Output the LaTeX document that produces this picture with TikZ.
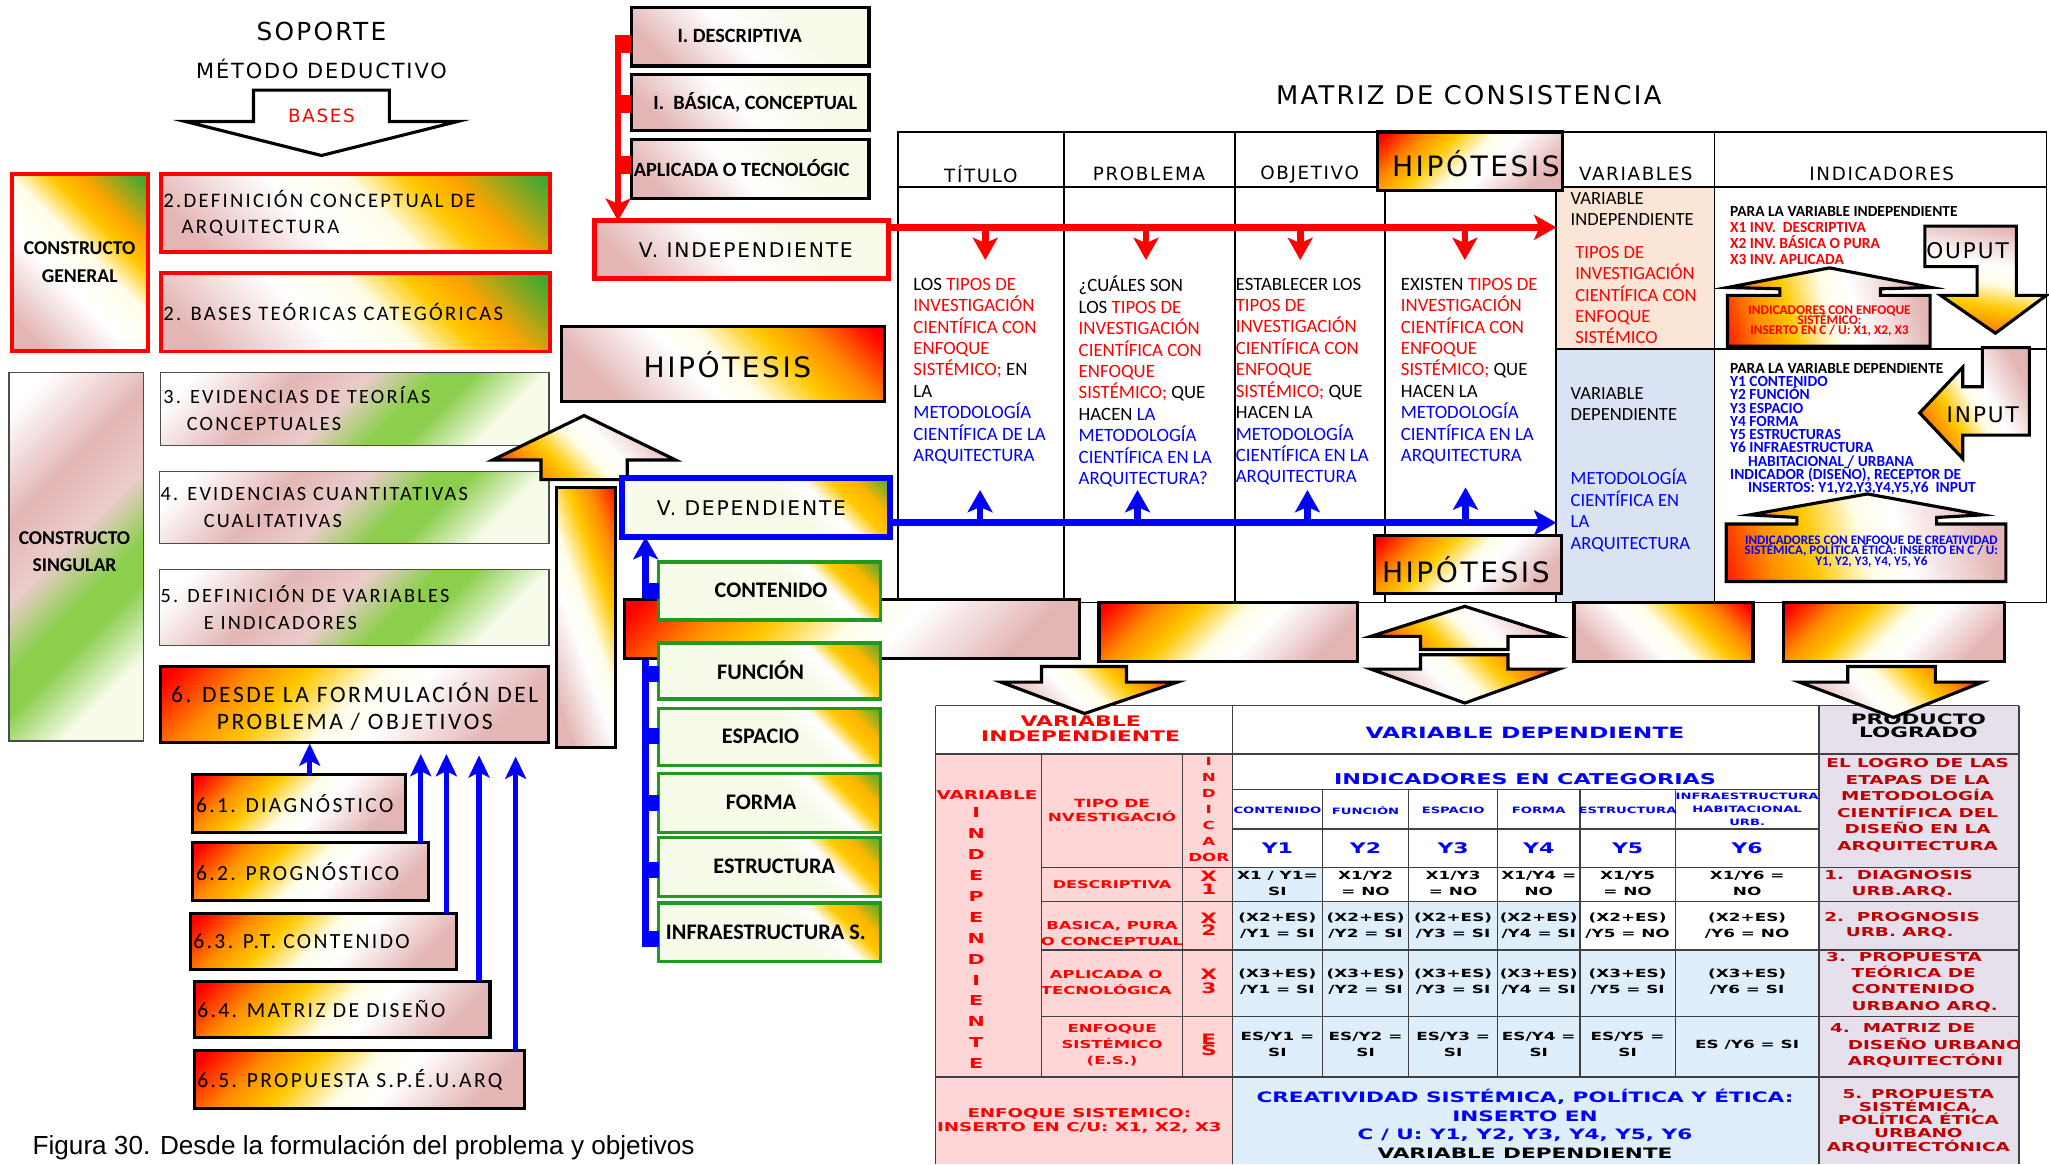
\documentclass[tikz,border=0pt]{standalone}
\usepackage{fontspec}
\setmainfont{Carlito}
\newfontfamily\lsfont[LetterSpace=11]{Carlito}
\newfontfamily\gfont[LetterSpace=9]{DejaVu Sans}
\newfontfamily\wfont[FakeStretch=1.5]{DejaVu Sans}
\newfontfamily\capfont{Liberation Sans}
\usetikzlibrary{arrows.meta}
\newcommand{\fsz}[2]{\fontsize{#1}{#2}\selectfont\lineskiplimit=-1000pt\relax}
\newcommand{\W}[2]{\wfont\bfseries\fsz{#1}{#2}}
\definecolor{fred}{HTML}{FF0000}
\definecolor{forange}{HTML}{FF8C00}
\definecolor{fyellow}{HTML}{FFC800}
\definecolor{fivory}{HTML}{FFFDE8}
\definecolor{fpink}{HTML}{E3B6B5}
\definecolor{fiv}{HTML}{F7FBE9}
\definecolor{fgreen}{HTML}{3AA935}
\definecolor{lgreen}{HTML}{8CCF4D}
\definecolor{pblue}{HTML}{0000FF}
\definecolor{peach}{HTML}{FBE5D6}
\definecolor{lblue}{HTML}{DAE3F3}
\definecolor{tpink}{HTML}{FFD6D6}
\definecolor{tblue}{HTML}{DEEEFA}
\definecolor{lav}{HTML}{E6E0EC}
\definecolor{dred}{HTML}{C00000}
\definecolor{gbord}{HTML}{1F9A1F}
\definecolor{tline}{HTML}{404040}
\pgfdeclarehorizontalshading{fire}{100bp}{color(0bp)=(fred); color(17bp)=(fred); color(29bp)=(forange); color(38bp)=(fyellow); color(49bp)=(fivory); color(57bp)=(white); color(75bp)=(fpink); color(100bp)=(fpink)}
\pgfdeclarehorizontalshading{gold}{100bp}{color(0bp)=(fpink); color(22bp)=(fpink); color(42bp)=(white); color(54bp)=(fivory); color(63bp)=(fyellow); color(70bp)=(forange!60!fyellow); color(84bp)=(fgreen); color(100bp)=(fgreen)}
\pgfdeclarehorizontalshading{gband}{100bp}{color(0bp)=(white); color(20bp)=(white); color(36bp)=(fpink); color(47bp)=(fpink!70); color(57bp)=(lgreen); color(63bp)=(lgreen); color(74bp)=(fiv); color(100bp)=(fiv)}
\pgfdeclarehorizontalshading{ivgreen}{100bp}{color(0bp)=(fiv); color(58bp)=(fiv); color(66bp)=(white); color(72bp)=(fyellow); color(77bp)=(fyellow!70!forange); color(86bp)=(fgreen); color(100bp)=(fgreen)}
\pgfdeclarehorizontalshading{pinkiv}{100bp}{color(0bp)=(fpink); color(24bp)=(fpink); color(46bp)=(white); color(64bp)=(fiv); color(100bp)=(fiv)}
\begin{document}
\begin{tikzpicture}[x=1pt,y=-1pt,
  every node/.style={inner sep=0pt, outer sep=0pt},
  boxnw/.style={anchor=north west},
  fireL/.style={shade, shading=fire, shading angle=-45},
  fireTR/.style={shade, shading=fire, shading angle=225},
  fireBL/.style={shade, shading=fire, shading angle=45},
  goldS/.style={shade, shading=gold, shading angle=45},
  gbandS/.style={shade, shading=gband, shading angle=-45},
  ivgS/.style={shade, shading=ivgreen, shading angle=45},
  pinkS/.style={shade, shading=pinkiv, shading angle=45},
  blk/.style={draw=black, line width=2.4pt},
  redb/.style={draw=fred, line width=3pt},
  thinb/.style={draw=black!70, line width=1pt},
  grnb/.style={draw=gbord, line width=2.6pt},
  blub/.style={draw=pblue, line width=4.5pt},
  blockar/.style={draw=black, line width=2.4pt, line join=miter},
  rarr/.style={draw=fred, line width=5pt, -{Stealth[length=17pt,width=19pt,inset=4pt]}},
  barr/.style={draw=pblue, line width=5pt, -{Stealth[length=17pt,width=19pt,inset=4pt]}},
  barrs/.style={draw=pblue, line width=4pt, -{Stealth[length=17pt,width=16pt,inset=4pt]}},
  mline/.style={draw=black, line width=1.4pt},
]
\useasboundingbox (0,0) rectangle (1568,891);
\fill[white] (0,0) rectangle (1568,891);

% ---------- headings
\node[font={\gfont\fsz{19}{22}}] (sop) at (246,24) {SOPORTE};
\node[font={\gfont\fsz{16}{19}}] (met) at (246,53) {MÉTODO DEDUCTIVO};
\draw[blockar, fill=white] (194,69) -- (298,69) -- (298,93) -- (350,93) -- (246,119) -- (142,93) -- (194,93) -- cycle;
\node[font={\gfont\fsz{14}{16}}, text=fred] (bas) at (246,89) {BASES};

% ---------- left column
\node[boxnw, goldS, redb, minimum width=104, minimum height=135] (cg) at (9,133.5) {};
\node[align=center, font={\bfseries\fsz{15}{21}}] (cgt) at (61,200.5) {CONSTRUCTO\\GENERAL};
\node[boxnw, goldS, redb, minimum width=298, minimum height=60] (b21) at (123,133) {};
\node[anchor=west, align=left, font={\lsfont\fsz{15.8}{20}}] (b21t) at ([xshift=2]b21.west) {2.DEFINICIÓN CONCEPTUAL DE\\\hspace*{14pt}ARQUITECTURA};
\node[boxnw, goldS, redb, minimum width=298, minimum height=60] (b22) at (123,209) {};
\node[anchor=west, font={\lsfont\fsz{15.8}{20}}] (b22t) at ([xshift=2]b22.west) {2. BASES TEÓRICAS CATEGÓRICAS};

\node[boxnw, gbandS, thinb, minimum width=103, minimum height=282] (cs) at (7,285) {};
\node[align=center, font={\bfseries\fsz{15}{21}}] (cst) at (57,422) {CONSTRUCTO\\SINGULAR};
\node[boxnw, gbandS, thinb, minimum width=297, minimum height=56] (b3) at (123,285) {};
\node[anchor=west, align=left, font={\lsfont\fsz{15.5}{20.7}}] (b3t) at ([xshift=2]b3.west) {3. EVIDENCIAS DE TEORÍAS\\\hspace*{18pt}CONCEPTUALES};
\node[boxnw, gbandS, thinb, minimum width=298, minimum height=55] (b4) at (122,361) {};
\node[anchor=west, align=left, font={\lsfont\fsz{15.5}{20.7}}] (b4t) at ([xshift=1]b4.west) {4. EVIDENCIAS CUANTITATIVAS\\\hspace*{33pt}CUALITATIVAS};
\node[boxnw, gbandS, thinb, minimum width=298, minimum height=58] (b5) at (122,436) {};
\node[anchor=west, align=left, font={\lsfont\fsz{15.5}{20}}] (b5t) at ([xshift=1]b5.west) {5. DEFINICIÓN DE VARIABLES\\\hspace*{33pt}E INDICADORES};
\node[boxnw, fireL, blk, minimum width=297, minimum height=58] (b6) at (123,510) {};
\node[align=center, font={\lsfont\fsz{18}{20.5}}] (b6t) at (271.5,540.5) {6. DESDE LA FORMULACIÓN DEL\\PROBLEMA / OBJETIVOS};

% tall bar and up arrow
\node[boxnw, shade, shading=fire, shading angle=200, blk, minimum width=45, minimum height=199] (bar) at (426,373) {};
\draw[blockar, fireBL] (414,367) -- (414,352) -- (377,352) -- (447,318) -- (517,352) -- (480,352) -- (480,367) -- cycle;

% 6.x boxes
\node[boxnw, fireL, blk, minimum width=163, minimum height=44] (b61) at (147,593) {};
\node[anchor=west, font={\lsfont\fsz{16.5}{20}}] (b61t) at ([xshift=3]b61.west) {6.1. DIAGNÓSTICO};
\node[boxnw, fireL, blk, minimum width=181, minimum height=44] (b62) at (147,645) {};
\node[anchor=west, font={\lsfont\fsz{16.5}{20}}] (b62t) at ([xshift=3]b62.west) {6.2. PROGNÓSTICO};
\node[boxnw, fireL, blk, minimum width=203.5, minimum height=43] (b63) at (146,699) {};
\node[anchor=west, font={\lsfont\fsz{16.5}{20}}] (b63t) at ([xshift=2]b63.west) {6.3. P.T. CONTENIDO};
\node[boxnw, fireL, blk, minimum width=226, minimum height=43] (b64) at (149,751) {};
\node[anchor=west, font={\lsfont\fsz{16.5}{20}}] (b64t) at ([xshift=2]b64.west) {6.4. MATRIZ DE DISEÑO};
\node[boxnw, fireL, blk, minimum width=252.5, minimum height=44.5] (b65) at (149,804) {};
\node[anchor=west, font={\lsfont\fsz{16.5}{20}}] (b65t) at ([xshift=2]b65.west) {6.5. PROPUESTA S.P.É.U.ARQ};

\coordinate (a61) at (237,0);
\coordinate (a62) at (322,0);
\coordinate (a63) at (341.6,0);
\coordinate (a64) at (366.6,0);
\coordinate (a65) at (394.6,0);
\draw[barrs, shorten >=1pt] (b61.north -| a61) -- (b6.south -| a61);
\draw[barrs, shorten >=9pt] (b62.north -| a62) -- (b6.south -| a62);
\draw[barrs, shorten >=9pt] (b63.north -| a63) -- (b6.south -| a63);
\draw[barrs, shorten >=10pt] (b64.north -| a64) -- (b6.south -| a64);
\draw[barrs, shorten >=11pt] (b65.north -| a65) -- (b6.south -| a65);

% ---------- investigation types
\node[boxnw, pinkS, blk, minimum width=182, minimum height=44.5] (d1) at (483,6) {};
\node[font={\bfseries\fsz{15.5}{18}}] (d1t) at (566,27.3) {I. DESCRIPTIVA};
\node[boxnw, pinkS, blk, minimum width=182, minimum height=43] (d2) at (483,57) {};
\node[anchor=west, font={\bfseries\fsz{15.5}{18}}] (d2t) at (500,78.4) {I.\ \ BÁSICA, CONCEPTUAL};
\node[boxnw, pinkS, blk, minimum width=182, minimum height=45] (d3) at (483,107) {};
\node[anchor=west, font={\bfseries\fsz{15.5}{18}}] (d3t) at (485,128.5) {APLICADA O TECNOLÓGIC};

\node[boxnw, pinkS, draw=fred, line width=4pt, minimum width=225, minimum height=44] (vi) at (455,169) {};
\node[font={\gfont\fsz{15.5}{18}}] (vit) at (570.7,191.3) {V. INDEPENDIENTE};

\coordinate (brk) at (473,29);
\coordinate (s1) at (0,33.5);
\coordinate (s2) at (0,79.5);
\coordinate (s3) at (0,126.5);
\draw[fred, line width=14pt] (d1.west |- s1) -- (brk |- s1);
\draw[fred, line width=14pt] (d2.west |- s2) -- (brk |- s2);
\draw[fred, line width=14pt] (d3.west |- s3) -- (brk |- s3);
\draw[rarr, line join=miter] (d1.west |- brk) -- (brk) -- (brk |- vi.north);

\node[boxnw, fireTR, blk, minimum width=247, minimum height=57] (hl) at (430,250) {};
\node[font={\gfont\fsz{21.5}{24}}] (hlt) at (556.7,278.7) {HIPÓTESIS};

\node[boxnw, ivgS, blub, minimum width=205, minimum height=45] (vd) at (476,366) {};
\node[font={\gfont\fsz{15.5}{18}}] (vdt) at (575,388.5) {V. DEPENDIENTE};

% ---------- matrix table
\node[font={\gfont\fsz{19.7}{22}}] (mt) at (1124,73) {MATRIZ DE CONSISTENCIA};
\node[boxnw, fill=peach, minimum width=121, minimum height=124] (vind) at (1191,143) {};
\node[boxnw, fill=lblue, minimum width=121, minimum height=194] (vdep) at (1191,267) {};
\draw[mline] (687,101) rectangle (1566,461);
\draw[mline] (687,143) -- (1566,143) (814,101) -- (814,461) (945,101) -- (945,461) (1060,143) -- (1060,461) (1191,101) -- (1191,461) (1312,101) -- (1312,461) (1191,267) -- (1566,267);

\node[font={\gfont\fsz{14}{16}}] (h1) at (750.6,133.2) {TÍTULO};
\node[font={\gfont\fsz{14}{16}}] (h2) at (879.3,133.2) {PROBLEMA};
\node[font={\gfont\fsz{14}{16}}] (h3) at (1002.2,133.2) {OBJETIVO};
\node[font={\gfont\fsz{14}{16}}] (h5) at (1251.8,133.2) {VARIABLES};
\node[font={\gfont\fsz{14}{16}}] (h6) at (1440,133.2) {INDICADORES};

\node[anchor=west, align=left, font={\fsz{14.4}{16.4}}] (c1) at (699,284) {LOS \textcolor{fred}{TIPOS DE}\\\textcolor{fred}{INVESTIGACIÓN}\\\textcolor{fred}{CIENTÍFICA CON}\\\textcolor{fred}{ENFOQUE}\\\textcolor{fred}{SISTÉMICO;} EN\\LA\\\textcolor{pblue}{METODOLOGÍA}\\\textcolor{pblue}{CIENTÍFICA DE LA}\\\textcolor{pblue}{ARQUITECTURA}};
\node[anchor=west, align=left, font={\fsz{14.4}{16.4}}] (c2) at (825.5,292) {¿CUÁLES SON\\LOS \textcolor{fred}{TIPOS DE}\\\textcolor{fred}{INVESTIGACIÓN}\\\textcolor{fred}{CIENTÍFICA CON}\\\textcolor{fred}{ENFOQUE}\\\textcolor{fred}{SISTÉMICO;} QUE\\HACEN \textcolor{pblue}{LA}\\\textcolor{pblue}{METODOLOGÍA}\\\textcolor{pblue}{CIENTÍFICA EN LA}\\\textcolor{pblue}{ARQUITECTURA?}};
\node[anchor=west, align=left, font={\fsz{14.4}{16.4}}] (c3) at (945.7,292) {ESTABLECER LOS\\\textcolor{fred}{TIPOS DE}\\\textcolor{fred}{INVESTIGACIÓN}\\\textcolor{fred}{CIENTÍFICA CON}\\\textcolor{fred}{ENFOQUE}\\\textcolor{fred}{SISTÉMICO;} QUE\\HACEN LA\\\textcolor{pblue}{METODOLOGÍA}\\\textcolor{pblue}{CIENTÍFICA EN LA}\\\textcolor{pblue}{ARQUITECTURA}};
\node[anchor=west, align=left, font={\fsz{14.4}{16.4}}] (c4) at (1072,284) {EXISTEN \textcolor{fred}{TIPOS DE}\\\textcolor{fred}{INVESTIGACIÓN}\\\textcolor{fred}{CIENTÍFICA CON}\\\textcolor{fred}{ENFOQUE}\\\textcolor{fred}{SISTÉMICO;} QUE\\HACEN LA\\\textcolor{pblue}{METODOLOGÍA}\\\textcolor{pblue}{CIENTÍFICA EN LA}\\\textcolor{pblue}{ARQUITECTURA}};

\node[anchor=west, align=left, font={\fsz{14.2}{16.4}}] (vt1) at (1202,160) {VARIABLE\\INDEPENDIENTE};
\node[anchor=west, align=left, font={\fsz{14.2}{16.2}}, text=fred] (vt2) at (1205.5,225.8) {TIPOS DE\\INVESTIGACIÓN\\CIENTÍFICA CON\\ENFOQUE\\SISTÉMICO};
\node[anchor=west, align=left, font={\fsz{14.2}{16.4}}] (vt3) at (1202,309) {VARIABLE\\DEPENDIENTE};
\node[anchor=west, align=left, font={\fsz{14.2}{16.4}}, text=pblue] (vt4) at (1202,390.6) {METODOLOGÍA\\CIENTÍFICA EN\\LA\\ARQUITECTURA};

\node[boxnw, fireL, blk, minimum width=142, minimum height=45] (ht) at (1054,101) {};
\node[font={\gfont\fsz{21.5}{24}}] (htt) at (1129.4,125) {HIPÓTESIS};

% red and blue flows
\coordinate (ry) at (0,174);
\coordinate (rd1) at (754,199);
\coordinate (rd2) at (877,199);
\coordinate (rd3) at (995,199);
\coordinate (rd4) at (1121,199);
\draw[rarr] (vi.east |- ry) -- (vind.west |- ry);
\draw[rarr] (rd1 |- ry) -- (rd1);
\draw[rarr] (rd2 |- ry) -- (rd2);
\draw[rarr] (rd3 |- ry) -- (rd3);
\draw[rarr] (rd4 |- ry) -- (rd4);
\coordinate (by) at (0,400);
\coordinate (bu1) at (750,375);
\coordinate (bu2) at (870.5,375);
\coordinate (bu3) at (1000.5,375);
\coordinate (bu4) at (1121.5,373);
\draw[barr] (vd.east |- by) -- (vdep.west |- by);
\draw[barr] (bu1 |- by) -- (bu1);
\draw[barr] (bu2 |- by) -- (bu2);
\draw[barr] (bu3 |- by) -- (bu3);
\draw[barr] (bu4 |- by) -- (bu4);

\node[boxnw, fireL, blk, minimum width=143, minimum height=44] (hb) at (1052,410) {};
\node[font={\gfont\fsz{21.5}{24}}] (hbt) at (1121.7,435.7) {HIPÓTESIS};

% indicators column
\node[anchor=west, align=left, font={\bfseries\fsz{11.8}{12.3}}] (ind1) at (1324,180.5) {PARA LA VARIABLE INDEPENDIENTE\\\textcolor{fred}{X1 INV.\ \ DESCRIPTIVA}\\\textcolor{fred}{X2 INV. BÁSICA O PURA}\\\textcolor{fred}{X3 INV. APLICADA}};
\draw[blockar, shade, shading=fire, shading angle=15] (1322,265) -- (1322,226) -- (1362,226) -- (1362,221) -- (1322,220) -- (1400,205) -- (1478,220) -- (1439,221) -- (1439,226) -- (1477,226) -- (1477,265) -- cycle;
\begin{scope}
\clip (1322,205) rectangle (1478,257.5);
\node[align=center, font={\bfseries\fsz{10.2}{7.6}}, text=fred] (ia1) at (1400,245.5) {INDICADORES CON ENFOQUE\\SISTÉMICO:\\INSERTO EN C / U: X1, X2, X3};
\end{scope}
\draw[blockar, shade, shading=fire, shading angle=80] (1473,173) -- (1543,173) -- (1543,226) -- (1566,226) -- (1527,255) -- (1485,226) -- (1513,226) -- (1513,204) -- (1473,204) -- cycle;
\node[font={\gfont\fsz{16.5}{18}}] (oup) at (1505.6,191.8) {OUPUT};

\node[anchor=west, align=left, font={\bfseries\fsz{11.8}{10.13}}] (ind2) at (1324,328.3) {PARA LA VARIABLE DEPENDIENTE\\\textcolor{pblue}{Y1 CONTENIDO}\\\textcolor{pblue}{Y2 FUNCIÓN}\\\textcolor{pblue}{Y3 ESPACIO}\\\textcolor{pblue}{Y4 FORMA}\\\textcolor{pblue}{Y5 ESTRUCTURAS}\\\textcolor{pblue}{Y6 INFRAESTRUCTURA}\\\hspace*{13.7pt}\textcolor{pblue}{HABITACIONAL / URBANA}\\\textcolor{pblue}{INDICADOR (DISEÑO), RECEPTOR DE}\\\hspace*{13.7pt}\textcolor{pblue}{INSERTOS: Y1,Y2,Y3,Y4,Y5,Y6\ \ INPUT}};
\draw[blockar, shade, shading=fire, shading angle=30] (1517,266) -- (1553,266) -- (1553,333) -- (1502,333) -- (1502,351) -- (1469,316) -- (1502,281) -- (1502,296) -- (1517,296) -- cycle;
\node[font={\gfont\fsz{16.5}{18}}] (inp) at (1517.3,317.6) {INPUT};
\draw[blockar, shade, shading=fire, shading angle=15] (1321,445) -- (1321,401) -- (1375,401) -- (1375,396) -- (1339,394) -- (1429,378) -- (1517,394) -- (1482,396) -- (1482,401) -- (1535,401) -- (1535,445) -- cycle;
\node[align=center, font={\bfseries\fsz{10}{8}}, text=pblue] (ia2) at (1432,422) {INDICADORES CON ENFOQUE DE CREATIVIDAD\\SISTÉMICA, POLÍTICA ÉTICA: INSERTO EN C / U:\\Y1, Y2, Y3, Y4, Y5, Y6};

% ---------- dependent variable indicators (green boxes)
\coordinate (bl) at (494,725);
\draw[barr] (bl) -- (bl |- vd.south);
\node[boxnw, fireL, blk, minimum width=348, minimum height=45] (ba) at (478,459) {};
\coordinate (u1) at (0,452);
\coordinate (u2) at (0,516);
\coordinate (u3) at (0,563);
\coordinate (u4) at (0,614.5);
\coordinate (u5) at (0,665.5);
\coordinate (u6) at (0,718.5);
\node[boxnw, ivgS, grnb, minimum width=170, minimum height=44.5] (g1) at (504,430) {};
\node[boxnw, ivgS, grnb, minimum width=170, minimum height=43] (g2) at (504,492) {};
\node[boxnw, ivgS, grnb, minimum width=170, minimum height=44] (g3) at (504,542) {};
\node[boxnw, ivgS, grnb, minimum width=170, minimum height=45] (g4) at (504,592) {};
\node[boxnw, ivgS, grnb, minimum width=170, minimum height=45] (g5) at (504,641) {};
\node[boxnw, ivgS, grnb, minimum width=170, minimum height=45] (g6) at (504,691) {};
\draw[pblue, line width=12pt] (g1.west |- u1) -- (bl |- u1);
\draw[pblue, line width=12pt] (g2.west |- u2) -- (bl |- u2);
\draw[pblue, line width=12pt] (g3.west |- u3) -- (bl |- u3);
\draw[pblue, line width=12pt] (g4.west |- u4) -- (bl |- u4);
\draw[pblue, line width=12pt] (g5.west |- u5) -- (bl |- u5);
\draw[pblue, line width=12pt] (g6.west |- u6) -- (bl |- u6);
\node[font={\bfseries\fsz{17}{20}}] (g1t) at (590,451.5) {CONTENIDO};
\node[font={\bfseries\fsz{17}{20}}] (g2t) at (582,513) {FUNCIÓN};
\node[font={\bfseries\fsz{17}{20}}] (g3t) at (582,563.7) {ESPACIO};
\node[font={\bfseries\fsz{17}{20}}] (g4t) at (582.4,614) {FORMA};
\node[font={\bfseries\fsz{17}{20}}] (g5t) at (592.5,663.2) {ESTRUCTURA};
\node[anchor=west, font={\bfseries\fsz{17}{20}}] (g6t) at (509.6,713.7) {INFRAESTRUCTURA S.};

% ---------- row of boxes under matrix
\node[boxnw, fireL, blk, minimum width=198, minimum height=45] (bb) at (841,461) {};
\node[boxnw, fireTR, blk, minimum width=137, minimum height=45] (bc) at (1204.5,461) {};
\node[boxnw, fireL, blk, minimum width=169, minimum height=45] (bdd) at (1365,461) {};

% ---------- bottom table
\fill[tpink] (716,577) rectangle (943,891);
\fill[lav] (1392,540) rectangle (1545,891);
\fill[tblue] (943,664) rectangle (1012,690);
\fill[tblue] (943,690) rectangle (1209,727);
\fill[tblue] (943,727) rectangle (1392,891);
\draw[tline, line width=1.2pt] (716,540) -- (1545,540) (716,577) -- (1545,577) (943,604) -- (1392,604) (943,634.5) -- (1392,634.5) (797,664) -- (1545,664) (797,690) -- (1545,690) (797,727) -- (1545,727) (797,778) -- (1545,778) (716,824) -- (1545,824) (716,540) -- (716,891) (797,577) -- (797,824) (905,577) -- (905,824) (943,540) -- (943,891) (1012,604) -- (1012,824) (1078,604) -- (1078,824) (1146,604) -- (1146,824) (1209,604) -- (1209,824) (1282,604) -- (1282,824) (1392,540) -- (1392,891) (1545,540) -- (1545,891);

\node[align=center, font={\W{11.2}{11}}, text=fred] (tvi) at (827,557.5) {VARIABLE\\INDEPENDIENTE};
\node[font={\W{11.9}{13}}, text=pblue] (tvd) at (1167,561) {VARIABLE\enspace DEPENDIENTE};
\node[align=center, font={\W{11}{9.5}}] (tpl) at (1468,555.5) {PRODUCTO\\LOGRADO};
\node[font={\W{11.4}{13}}, text=pblue] (tic) at (1167,596) {INDICADORES EN CATEGORIAS};
\node[font={\W{6.7}{8}}, text=pblue] (n1) at (977.5,620) {CONTENIDO};
\node[font={\W{6.7}{8}}, text=pblue] (n2) at (1045,620) {FUNCIÓN};
\node[font={\W{6.7}{8}}, text=pblue] (n3) at (1112,620) {ESPACIO};
\node[font={\W{6.7}{8}}, text=pblue] (n4) at (1177.5,620) {FORMA};
\node[font={\W{6.7}{8}}, text=pblue] (n5) at (1245.5,620) {ESTRUCTURA};
\node[align=center, font={\W{6.7}{10}}, text=pblue] (n6) at (1337,619.5) {INFRAESTRUCTURA\\HABITACIONAL\\URB.};
\node[font={\W{11.2}{13}}, text=pblue] (y1) at (977.5,649) {Y1};
\node[font={\W{11.2}{13}}, text=pblue] (y2) at (1045,649) {Y2};
\node[font={\W{11.2}{13}}, text=pblue] (y3) at (1112,649) {Y3};
\node[font={\W{11.2}{13}}, text=pblue] (y4) at (1177.5,649) {Y4};
\node[font={\W{11.2}{13}}, text=pblue] (y5) at (1245.5,649) {Y5};
\node[font={\W{11.2}{13}}, text=pblue] (y6) at (1337,649) {Y6};

\node[align=center, font={\W{8.6}{12.2}}] (e11) at (977.5,675.8) {X1 / Y1=\\SI};
\node[align=center, font={\W{8.6}{12.2}}] (e12) at (1045,675.8) {X1/Y2\\= NO};
\node[align=center, font={\W{8.6}{12.2}}] (e13) at (1112,675.8) {X1/Y3\\= NO};
\node[align=center, font={\W{8.6}{12.2}}] (e14) at (1177.5,675.8) {X1/Y4 =\\NO};
\node[align=center, font={\W{8.6}{12.2}}] (e15) at (1245.5,675.8) {X1/Y5\\= NO};
\node[align=center, font={\W{8.6}{12.2}}] (e16) at (1337,675.8) {X1/Y6 =\\NO};
\node[align=center, font={\W{8.6}{12.2}}] (e21) at (977.5,708.3) {(X2+ES)\\/Y1 = SI};
\node[align=center, font={\W{8.6}{12.2}}] (e22) at (1045,708.3) {(X2+ES)\\/Y2 = SI};
\node[align=center, font={\W{8.6}{12.2}}] (e23) at (1112,708.3) {(X2+ES)\\/Y3 = SI};
\node[align=center, font={\W{8.6}{12.2}}] (e24) at (1177.5,708.3) {(X2+ES)\\/Y4 = SI};
\node[align=center, font={\W{8.6}{12.2}}] (e25) at (1245.5,708.3) {(X2+ES)\\/Y5 = NO};
\node[align=center, font={\W{8.6}{12.2}}] (e26) at (1337,708.3) {(X2+ES)\\/Y6 = NO};
\node[align=center, font={\W{8.6}{12.2}}] (e31) at (977.5,751.5) {(X3+ES)\\/Y1 = SI};
\node[align=center, font={\W{8.6}{12.2}}] (e32) at (1045,751.5) {(X3+ES)\\/Y2 = SI};
\node[align=center, font={\W{8.6}{12.2}}] (e33) at (1112,751.5) {(X3+ES)\\/Y3 = SI};
\node[align=center, font={\W{8.6}{12.2}}] (e34) at (1177.5,751.5) {(X3+ES)\\/Y4 = SI};
\node[align=center, font={\W{8.6}{12.2}}] (e35) at (1245.5,751.5) {(X3+ES)\\/Y5 = SI};
\node[align=center, font={\W{8.6}{12.2}}] (e36) at (1337,751.5) {(X3+ES)\\/Y6 = SI};
\node[align=center, font={\W{8.6}{12.2}}] (e41) at (977.5,799.5) {ES/Y1 =\\SI};
\node[align=center, font={\W{8.6}{12.2}}] (e42) at (1045,799.5) {ES/Y2 =\\SI};
\node[align=center, font={\W{8.6}{12.2}}] (e43) at (1112,799.5) {ES/Y3 =\\SI};
\node[align=center, font={\W{8.6}{12.2}}] (e44) at (1177.5,799.5) {ES/Y4 =\\SI};
\node[align=center, font={\W{8.6}{12.2}}] (e45) at (1245.5,799.5) {ES/Y5 =\\SI};
\node[font={\W{8.6}{12.2}}] (e46) at (1337,799.5) {ES /Y6 = SI};

\node[font={\W{9.4}{11}}, text=fred] (tvar) at (755.3,608.4) {VARIABLE};
\node[align=center, font={\W{10.5}{16}}, text=fred] (tlet) at (747,718) {I\\N\\D\\E\\P\\E\\N\\D\\I\\E\\N\\T\\E};
\begin{scope}
\clip (797,577) rectangle (905,824);
\node[align=center, font={\W{8.6}{10.5}}, text=fred] (ttipo) at (851,620) {TIPO DE\\NVESTIGACIÓ};
\node[font={\W{8.2}{10}}, text=fred] (tdes) at (851,677) {DESCRIPTIVA};
\node[align=center, font={\W{8.4}{12.2}}, text=fred] (tbas) at (851,714.7) {BASICA, PURA\\O CONCEPTUAL};
\node[align=center, font={\W{8.4}{12}}, text=fred] (tapl) at (846.5,752) {APLICADA O\\TECNOLÓGICA};
\node[align=center, font={\W{8.4}{12.2}}, text=fred] (tenf) at (851,800) {ENFOQUE\\SISTÉMICO\\(E.S.)};
\end{scope}
\node[align=center, font={\W{8.5}{12.25}}, text=fred] (tind) at (925,619.8) {I\\N\\D\\I\\C\\A\\DOR};
\node[align=center, font={\W{11}{9.3}}, text=fred] (tx1) at (925,675.5) {X\\1};
\node[align=center, font={\W{11}{9}}, text=fred] (tx2) at (925,707.5) {X\\2};
\node[align=center, font={\W{11}{10}}, text=fred] (tx3) at (925,751) {X\\3};
\node[align=center, font={\W{11}{8.6}}, text=fred] (tes) at (925,799.3) {E\\S};
\node[align=center, font={\W{9.3}{10.5}}, text=fred] (tbl) at (826,857.8) {ENFOQUE SISTEMICO:\\INSERTO EN C/U: X1, X2, X3};
\node[align=center, font={\W{11}{14.1}}, text=pblue] (tcr) at (1167,860) {CREATIVIDAD SISTÉMICA, POLÍTICA Y ÉTICA:\\INSERTO EN\\C / U: Y1, Y2, Y3, Y4, Y5, Y6\\\textcolor{black}{VARIABLE DEPENDIENTE}};

\begin{scope}
\clip (1392,540) rectangle (1545,891);
\node[align=center, font={\W{9.4}{12.7}}, text=dred] (p0) at (1467.5,616.3) {EL LOGRO DE LAS\\ETAPAS DE LA\\METODOLOGÍA\\CIENTÍFICA DEL\\DISEÑO EN LA\\ARQUITECTURA};
\node[anchor=west, align=left, font={\W{9.4}{12}}, text=dred] (p1) at (1396,676.6) {1.\ \ DIAGNOSIS\\\hspace*{21pt}URB.ARQ.};
\node[anchor=west, align=left, font={\W{9.4}{12}}, text=dred] (p2) at (1396,708) {2.\ \ PROGNOSIS\\\hspace*{16.5pt}URB.\ ARQ.};
\node[anchor=west, align=left, font={\W{9.4}{12.4}}, text=dred] (p3) at (1397.5,751.6) {3.\ \ PROPUESTA\\\hspace*{19.5pt}TEÓRICA DE\\\hspace*{19.5pt}CONTENIDO\\\hspace*{19.5pt}URBANO ARQ.};
\node[anchor=west, align=left, font={\W{9.4}{12.5}}, text=dred] (p4) at (1400.5,800) {4.\ \ MATRIZ DE\\\hspace*{13.5pt}DISEÑO URBANO\\\hspace*{13.5pt}ARQUITECTÓNI};
\node[align=center, font={\W{9.4}{10}}, text=dred] (p5) at (1468,858) {5. PROPUESTA\\SISTÉMICA,\\POLÍTICA ÉTICA\\URBANO\\ARQUITECTÓNICA};
\end{scope}

% ---------- block arrows between matrix and table
\draw[blockar, fireBL] (1087,497) -- (1087,487) -- (1049,487) -- (1121,464) -- (1193,487) -- (1154,487) -- (1154,497) -- cycle;
\draw[blockar, fireTR] (1087,501) -- (1154,501) -- (1154,512) -- (1193,512) -- (1121,538) -- (1049,512) -- (1087,512) -- cycle;
\draw[blockar, fireTR] (797,510) -- (862,510) -- (862,522) -- (901,522) -- (830,546) -- (766,522) -- (797,522) -- cycle;
\draw[blockar, fireTR] (1414,510) -- (1481,510) -- (1481,522) -- (1517,522) -- (1449,549) -- (1377,522) -- (1414,522) -- cycle;

% caption
\node[anchor=west, font={\capfont\fsz{20}{22}}] (cap) at (25,878) {Figura 30. Desde la formulación del problema y objetivos};
\end{tikzpicture}
\end{document}
